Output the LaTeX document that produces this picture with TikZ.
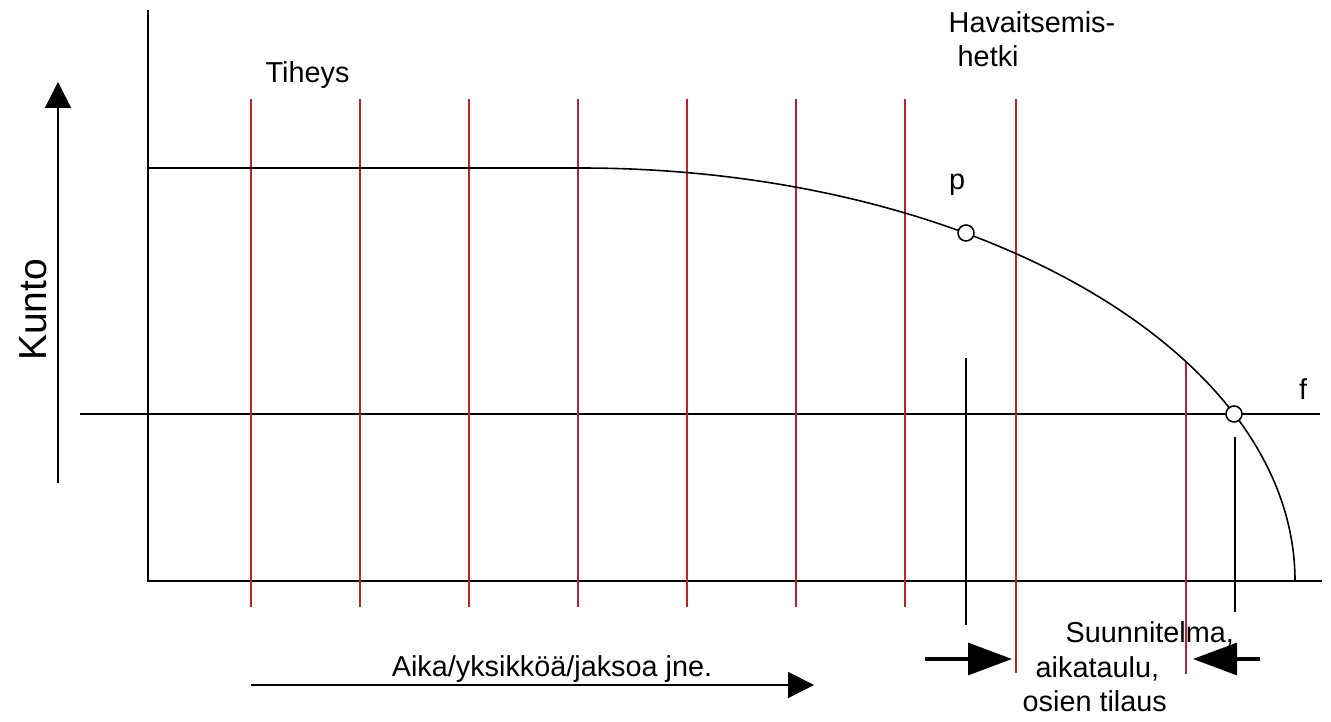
\documentclass[tikz,border=0pt]{standalone}
\usepackage{fontspec}
\setmainfont{Liberation Sans}
\usetikzlibrary{arrows.meta,positioning}
\definecolor{gridred}{RGB}{185,35,45}
\tikzset{
  axis/.style={draw=black, line width=0.45pt},
  tick/.style={draw=gridred, line width=0.5pt},
  pnt/.style={circle, draw=black, line width=0.45pt, fill=white,
    minimum size=0.16cm, inner sep=0pt},
  lbl/.style={font=\fontsize{8.2}{9.9}\selectfont, inner sep=0pt},
  dirarrow/.style={draw=black, line width=0.5pt, -{Triangle[length=2.6mm, width=2.6mm]}},
  bigarrow/.style={draw=black, line width=0.9pt, -{Triangle[length=4.4mm, width=3.2mm]}}
}
\begin{document}
\begin{tikzpicture}
  \useasboundingbox (0,0) rectangle (13.31,7.22);
  % akselit
  \coordinate (o) at (1.48,1.41);
  \coordinate (ytop) at (1.48,7.12);
  \coordinate (xend) at (13.22,1.41);
  \draw[axis] (ytop) -- (o) -- (xend);
  % f-taso
  \coordinate (fl) at (0.80,3.08);
  \coordinate (fr) at (13.20,3.08);
  \draw[axis] (fl) -- (fr);

  % tiheys: tarkastushetket
  \foreach \x in {2.51,3.60,4.69,5.78,6.87,7.96,9.05}
    \draw[tick] (\x,6.23) -- (\x,1.15);
  \draw[tick] (10.16,6.23) -- (10.16,0.49);
  \draw[tick] (11.86,3.60) -- (11.86,0.48);

  % kuntokayra
  \draw[axis] (1.48,5.54) -- (5.80,5.54)
    arc[start angle=90, end angle=0, x radius=7.15, y radius=4.13];

  % p ja f
  \node[pnt] (pp) at (9.66,4.89) {};
  \node[pnt] (ff) at (12.34,3.08) {};
  \coordinate (ptop) at (9.66,3.64);
  \coordinate (pbot) at (9.66,0.97);
  \coordinate (ftop) at (12.35,2.85);
  \coordinate (fbot) at (12.35,1.10);
  \draw[axis] (ptop) -- (pbot);
  \draw[axis] (ftop) -- (fbot);
  \node[lbl, anchor=base] (plbl) at (9.57,5.32) {p};
  \node[lbl, anchor=base] (flbl) at (13.03,3.22) {f};

  \node[lbl, anchor=base west] (tiheys) at (2.65,6.39) {Tiheys};
  \node[lbl, anchor=base west, align=left] (hav) at (9.48,6.55)
    {Havaitsemis-\\\hspace*{0.9mm}hetki};

  % Kunto-akseli
  \node[font=\fontsize{11.1}{13}\selectfont, rotate=90, inner sep=0pt] (kunto) at (0.33,4.12) {Kunto};
  \coordinate (kb) at (0.58,2.39);
  \coordinate (kt) at (0.58,6.40);
  \draw[dirarrow] (kb) -- (kt);

  % aika-akseli
  \coordinate (ab) at (2.51,0.37);
  \coordinate (ae) at (8.14,0.37);
  \draw[dirarrow] (ab) -- (ae);
  \node[lbl, anchor=base] (aika) at (5.52,0.45) {Aika/yksikköä/jaksoa jne.};

  % suunnitteluvali
  \coordinate (sl) at (9.25,0.63);
  \coordinate (sle) at (10.12,0.63);
  \coordinate (sr) at (12.60,0.63);
  \coordinate (sre) at (11.93,0.63);
  \draw[bigarrow] (sl) -- (sle);
  \draw[bigarrow] (sr) -- (sre);
  \node[lbl, anchor=base west, align=left] (plan) at (10.22,0.10)
    {\hspace*{4.3mm}Suunnitelma,\\\hspace*{1.3mm}aikataulu,\\osien tilaus};
\end{tikzpicture}
\end{document}
